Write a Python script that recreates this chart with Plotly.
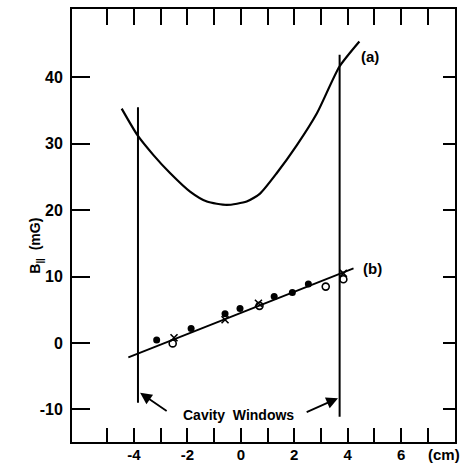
import plotly.graph_objects as go

# Curve (a)
xa = [-4.46, -3.87, -3.27, -2.65, -1.90, -1.27, -0.52, 0.22, 0.72, 1.35, 2.10, 2.85, 3.69, 4.44]
ya = [35.3, 31.3, 28.3, 25.6, 22.8, 21.3, 20.8, 21.3, 22.5, 25.6, 29.8, 34.6, 41.6, 45.4]

# Line (b) fit
xb = [-4.21, 4.22]
yb = [-2.15, 11.25]

# Measured points
x_filled = [-3.15, -1.86, -0.59, -0.03, 1.25, 1.93, 2.53]
y_filled = [0.45, 2.2, 4.4, 5.2, 7.0, 7.6, 8.9]
x_open = [-2.55, 0.70, 3.18, 3.84]
y_open = [-0.05, 5.6, 8.5, 9.6]
x_cross = [-2.5, -0.59, 0.66, 3.84]
y_cross = [0.8, 3.5, 6.0, 10.5]

# Cavity window lines
win_left_x = [-3.85, -3.85]
win_left_y = [35.5, -9.0]
win_right_x = [3.7, 3.7]
win_right_y = [43.4, -11.1]

x_ticks = [-5, -4, -3, -2, -1, 0, 1, 2, 3, 4, 5, 6, 7]
x_ticktext = ["", "-4", "", "-2", "", "0", "", "2", "", "4", "", "6", ""]
y_ticks = [-10, 0, 10, 20, 30, 40]
y_ticktext = ["-10", "0", "10", "20", "30", "40"]

XR = [-6.32, 8.02]
YR = [-14.9, 50.3]
FONT = "Liberation Sans"
blk = "black"

fig = go.Figure()
fig.add_trace(go.Scatter(x=xa, y=ya, mode="lines", line=dict(color=blk, width=2.2, shape="spline", smoothing=0.6)))
fig.add_trace(go.Scatter(x=win_left_x, y=win_left_y, mode="lines", line=dict(color=blk, width=2)))
fig.add_trace(go.Scatter(x=win_right_x, y=win_right_y, mode="lines", line=dict(color=blk, width=2)))
fig.add_trace(go.Scatter(x=xb, y=yb, mode="lines", line=dict(color=blk, width=1.8)))
fig.add_trace(go.Scatter(x=x_filled, y=y_filled, mode="markers",
                         marker=dict(symbol="circle", size=7, color=blk)))
fig.add_trace(go.Scatter(x=x_open, y=y_open, mode="markers",
                         marker=dict(symbol="circle-open", size=7, color=blk, line=dict(width=1.6))))
fig.add_trace(go.Scatter(x=x_cross, y=y_cross, mode="markers",
                         marker=dict(symbol="x-thin", size=7, color=blk, line=dict(width=1.6, color=blk))))
# invisible trace to activate secondary axes
fig.add_trace(go.Scatter(x=[XR[0]], y=[YR[0]], xaxis="x2", yaxis="y2", mode="markers",
                         marker=dict(opacity=0), hoverinfo="skip"))

common = dict(showgrid=False, zeroline=False, automargin=False, tickwidth=2, tickcolor=blk,
              showline=True, linewidth=2, linecolor=blk)

fig.update_layout(
    width=460, height=464,
    margin=dict(l=72, r=5, t=9, b=22, autoexpand=False),
    paper_bgcolor="white", plot_bgcolor="white",
    showlegend=False,
    font=dict(family=FONT, color=blk),
    xaxis=dict(range=XR, tickvals=x_ticks, ticktext=x_ticktext, ticks="inside", ticklen=14,
               tickfont=dict(size=15, family=FONT, weight="bold"), ticklabelstandoff=-2, **common),
    yaxis=dict(range=YR, tickvals=y_ticks, ticktext=y_ticktext, ticks="inside", ticklen=18,
               tickfont=dict(size=16, family=FONT, weight="bold"), ticklabelstandoff=4, **common),
    xaxis2=dict(range=XR, overlaying="x", side="top", tickvals=x_ticks, showticklabels=False,
                ticks="inside", ticklen=16, **common),
    yaxis2=dict(range=YR, overlaying="y", side="right", tickvals=y_ticks, showticklabels=False,
                ticks="inside", ticklen=12, **common),
)

bold = dict(family=FONT, size=15, color=blk, weight="bold")
fig.add_annotation(x=4.43, y=43.1, text="(a)", showarrow=False, xanchor="left", font=bold)
fig.add_annotation(x=4.5, y=11.3, text="(b)", showarrow=False, xanchor="left", font=bold)
fig.add_annotation(x=-0.1, y=-10.8, text="Cavity  Windows", showarrow=False,
                   font=dict(family=FONT, size=14, color=blk, weight="bold"))
fig.add_annotation(x=-3.77, y=-7.5, ax=-2.72, ay=-10.4, axref="x", ayref="y", xref="x", yref="y",
                   text="", showarrow=True, arrowhead=2, arrowsize=1.3, arrowwidth=1.8, arrowcolor=blk)
fig.add_annotation(x=3.64, y=-8.3, ax=2.41, ay=-10.5, axref="x", ayref="y", xref="x", yref="y",
                   text="", showarrow=True, arrowhead=2, arrowsize=1.3, arrowwidth=1.8, arrowcolor=blk)
fig.add_annotation(x=7.6, y=-0.03, xref="x", yref="paper", yanchor="middle", text="(cm)",
                   showarrow=False, font=dict(family=FONT, size=15, color=blk, weight="bold"))
fig.add_annotation(x=-0.123, y=0.453, xref="paper", yref="paper", text="B<sub>||</sub>  (mG)",
                   textangle=-90, showarrow=False, font=dict(family=FONT, size=14, color=blk, weight="bold"))

fig.write_html("out.html", config={"displayModeBar": False},
               post_script="document.body.style.margin='0';document.body.style.overflow='hidden';")
